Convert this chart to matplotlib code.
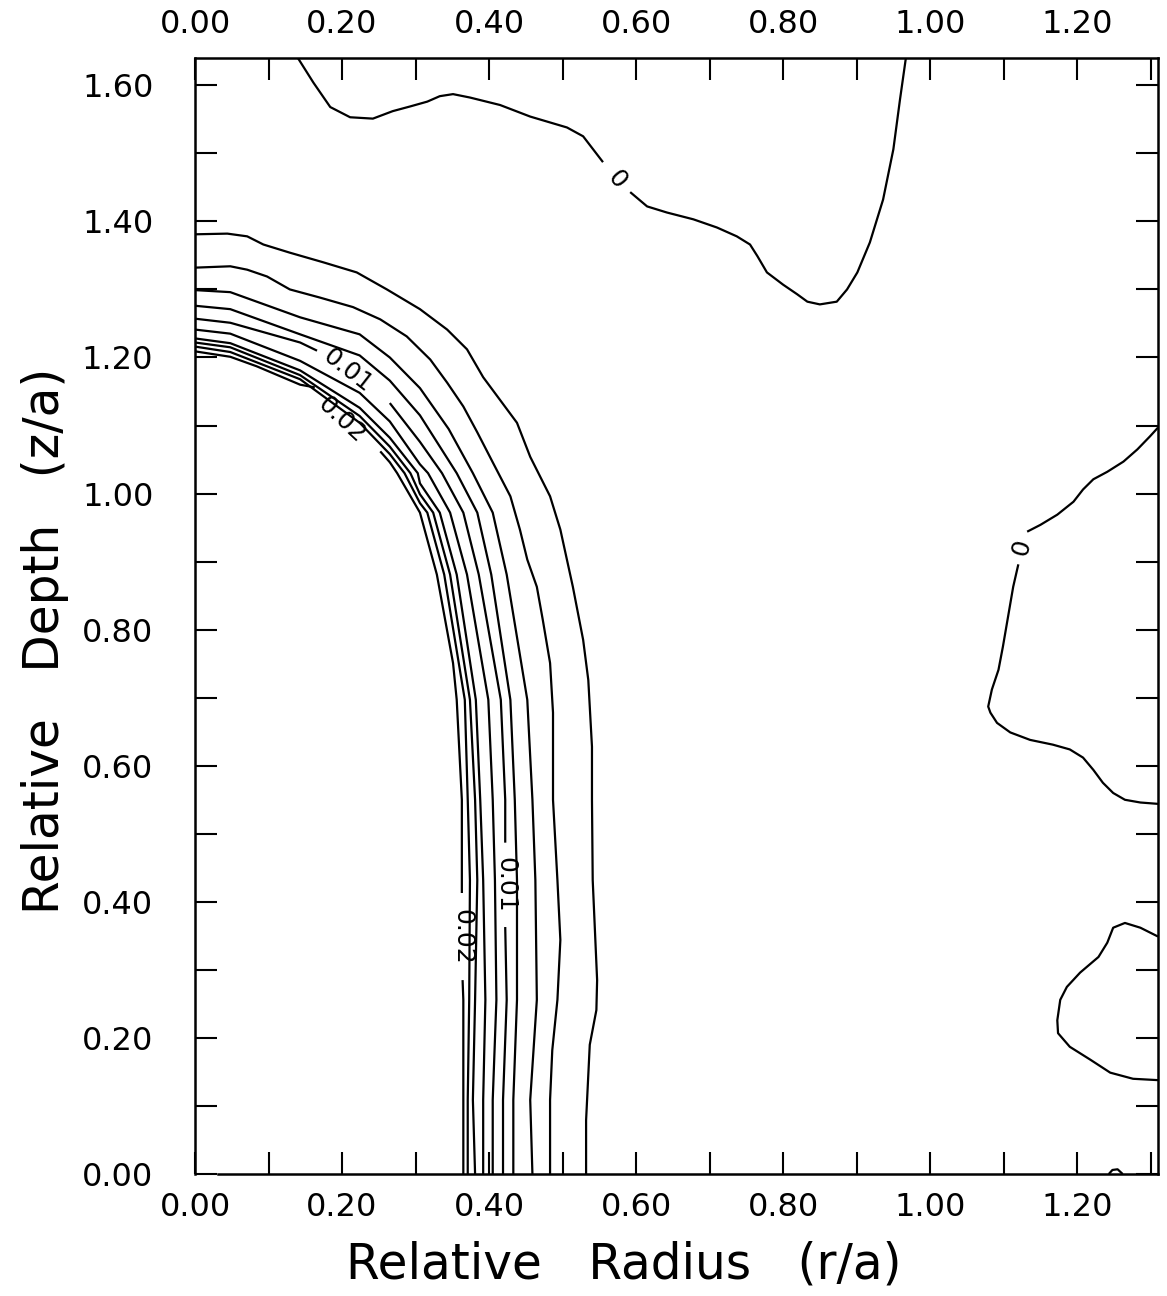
import numpy as np
import matplotlib
matplotlib.use("Agg")
import matplotlib.pyplot as plt
from matplotlib.ticker import MultipleLocator, FormatStrFormatter

nan = np.nan

# nested contours, levels 0.020 (inner) ... 0.002 (outer)
c020_r = [0.0, .048, .084, .143, .163, nan, .252, .265, .275, .306, .329, .351, .356, .363, .363, nan, .364, .365, .365, .365]
c020_z = [1.209, 1.201, 1.187, 1.160, 1.156, nan, 1.062, 1.046, 1.03, .972, .881, .751, .697, .550, .413, nan, .285, .256, .109, 0.0]

c018_r = [0.0, .048, .143, .224, .265, .285, .306, .316, .339, .367, .371, .374, .373, .371, .371]
c018_z = [1.216, 1.208, 1.168, 1.104, 1.058, 1.03, .986, .972, .881, .697, .550, .432, .256, .109, 0.0]

c016_r = [0.0, .048, .143, .224, .265, .293, .306, .324, .347, .374, .381, .384, .381, .378, .381]
c016_z = [1.222, 1.215, 1.174, 1.114, 1.069, 1.03, .999, .972, .881, .697, .550, .432, .256, .109, 0.0]

c014_r = [0.0, .048, .143, .224, .265, .303, .306, .333, .356, .382, .388, .392, .395, .392, .392]
c014_z = [1.228, 1.221, 1.181, 1.126, 1.082, 1.03, 1.015, .972, .881, .697, .550, .432, .256, .109, 0.0]

c012_r = [0.0, .048, .143, .224, .265, .306, .317, .347, .370, .399, .405, .408, .410, .405, .405]
c012_z = [1.241, 1.235, 1.195, 1.148, 1.106, 1.043, 1.03, .972, .881, .697, .550, .432, .256, .109, 0.0]

c010_r = [0.0, .048, .143, .166, nan, .265, .306, .336, .365, .386, .416, .422, .422, nan, .422, .424, .419, .419]
c010_z = [1.257, 1.251, 1.222, 1.210, nan, 1.133, 1.076, 1.03, .972, .881, .697, .550, .487, nan, .363, .256, .109, 0.0]

c008_r = [0.0, .048, .143, .224, .265, .306, .356, .384, .403, .429, .435, .438, .438, .433, .433]
c008_z = [1.276, 1.271, 1.234, 1.203, 1.166, 1.115, 1.03, .972, .881, .697, .550, .432, .256, .109, 0.0]

c006_r = [0.0, .048, .143, .224, .265, .306, .345, .378, .405, .424, .452, .459, .463, .465, .456, .459]
c006_z = [1.299, 1.296, 1.259, 1.234, 1.200, 1.155, 1.095, 1.03, .972, .881, .697, .550, .432, .256, .109, 0.0]

c004_r = [0.0, .048, .071, .098, .129, .170, .215, .252, .288, .320, .343, .365, .384, .405, .429,
          .442, .452, .465, .473, .483, .487, .487, .493, .497, .493, .486, .483, .483]
c004_z = [1.332, 1.334, 1.329, 1.319, 1.300, 1.288, 1.274, 1.256, 1.231, 1.197, 1.163, 1.128, 1.090, 1.046, .996,
          .947, .903, .863, .815, .751, .678, .550, .432, .344, .256, .182, .109, 0.0]

c002_r = [0.0, .044, .071, .093, .129, .174, .220, .261, .306, .343, .370, .392, .438, .456, .483,
          .497, .514, .528, .535, .540, .540, .541, .547, .546, .537, .532, .532]
c002_z = [1.381, 1.382, 1.378, 1.366, 1.354, 1.340, 1.325, 1.300, 1.271, 1.241, 1.212, 1.171, 1.104, 1.054, .996,
          .947, .863, .785, .726, .628, .550, .432, .285, .241, .190, .079, 0.0]

# zero contours
zero_top_r = [.140, .161, .184, .211, .242, .269, .293, .316, .333, .351, .374, .415, .456, .506, .528, .555, nan,
              .592, .615, .642, .678, .710, .737, .755, .765, .778, .800, .819, .833, .850, .873, .887, .901,
              .918, .936, .950, .959, .967]
zero_top_z = [1.64, 1.604, 1.568, 1.553, 1.551, 1.562, 1.569, 1.576, 1.584, 1.587, 1.582, 1.571, 1.554, 1.538, 1.525, 1.487, nan,
              1.443, 1.422, 1.413, 1.403, 1.391, 1.378, 1.366, 1.349, 1.325, 1.307, 1.293, 1.282, 1.278, 1.282, 1.300, 1.325,
              1.369, 1.432, 1.506, 1.579, 1.64]

zero_right_r = [1.31, 1.299, 1.282, 1.263, 1.241, 1.222, 1.208, 1.195, 1.173, 1.150, 1.132, nan,
                1.120, 1.113, 1.106, 1.099, 1.093, 1.084, 1.079, 1.082, 1.091, 1.109, 1.136, 1.167, 1.190,
                1.208, 1.222, 1.235, 1.249, 1.265, 1.286, 1.31]
zero_right_z = [1.097, 1.084, 1.065, 1.047, 1.032, 1.021, 1.006, .988, .969, .954, .944, nan,
                .896, .863, .819, .775, .741, .712, .687, .678, .663, .649, .638, .631, .624,
                .612, .594, .575, .560, .550, .546, .544]

zero_lobe_r = [1.31, 1.286, 1.265, 1.249, 1.241, 1.229, 1.204, 1.186, 1.177, 1.173, 1.174, 1.190, 1.218, 1.245, 1.276, 1.31]
zero_lobe_z = [.349, .362, .369, .362, .340, .319, .296, .275, .256, .226, .207, .187, .168, .149, .140, .138]

zero_bump_r = [1.243, 1.248, 1.255, 1.262]
zero_bump_z = [0.0, .006, .007, 0.0]

# contour labels
lab_text = ["0.01", "0.02", "0.01", "0.02", "0", "0"]
lab_r = [.208, .199, .422, .364, .574, 1.125]
lab_z = [1.180, 1.109, .425, .349, 1.462, .921]
lab_rot = [-38, -43, -90, -90, -50, 75]

xmax, ymax = 1.31, 1.64

plt.rcParams['font.family'] = ['DejaVu Sans']
fig = plt.figure(figsize=(11.67, 12.96), dpi=100)
ax = fig.add_axes([0.1671, 0.0941, 0.8252, 0.8611])

lines = [(c020_r, c020_z), (c018_r, c018_z), (c016_r, c016_z), (c014_r, c014_z), (c012_r, c012_z),
         (c010_r, c010_z), (c008_r, c008_z), (c006_r, c006_z), (c004_r, c004_z), (c002_r, c002_z),
         (zero_top_r, zero_top_z), (zero_right_r, zero_right_z), (zero_lobe_r, zero_lobe_z),
         (zero_bump_r, zero_bump_z)]
for r, z in lines:
    ax.plot(r, z, color="black", lw=1.6, solid_capstyle="butt")

for t, r, z, rot in zip(lab_text, lab_r, lab_z, lab_rot):
    ax.text(r, z, t, rotation=rot, rotation_mode="anchor", ha="center", va="center",
            fontsize=18, color="black")

ax.set_xlim(0, xmax)
ax.set_ylim(0, ymax)

for axis in (ax.xaxis, ax.yaxis):
    axis.set_major_locator(MultipleLocator(0.2))
    axis.set_minor_locator(MultipleLocator(0.1))
    axis.set_major_formatter(FormatStrFormatter("%.2f"))

ax.tick_params(which="both", direction="in", length=16, width=1.5, top=True, right=True,
               labeltop=True, labelright=False, labelsize=23)
ax.tick_params(axis="x", which="both", pad=13)
ax.tick_params(axis="y", which="both", pad=30)

for s in ax.spines.values():
    s.set_linewidth(1.8)
ax.spines["bottom"].set_bounds(0.031, xmax)

ax.set_xlabel("Relative   Radius   (r/a)", fontsize=35)
ax.set_ylabel("Relative   Depth   (z/a)", fontsize=35)
ax.xaxis.set_label_coords(0.445, -0.081)
ax.xaxis.label.set_va("center")
ax.yaxis.set_label_coords(-0.156, 0.478)
ax.yaxis.label.set_va("center")

fig.savefig("out.png", dpi=100)
